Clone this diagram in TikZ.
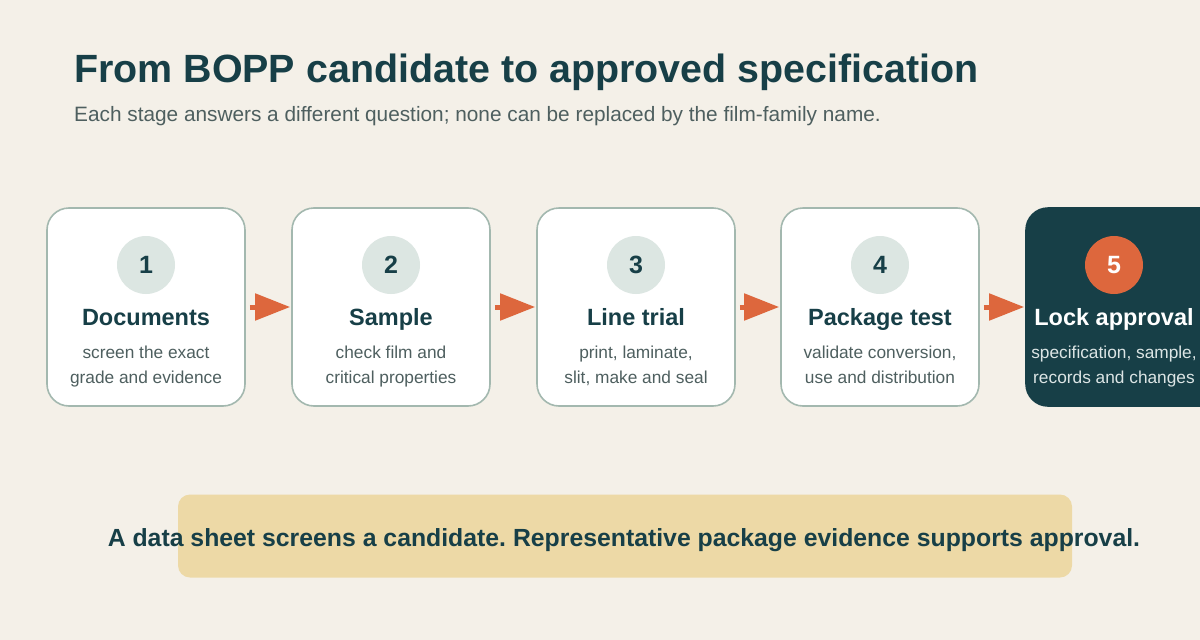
\documentclass[tikz,border=0pt]{standalone}
\usepackage{fontspec}
\setmainfont{Liberation Sans}
\frenchspacing
\usetikzlibrary{arrows.meta,positioning}
\definecolor{bopppaper}{HTML}{F4F0E8}
\definecolor{boppink}{HTML}{173F47}
\definecolor{boppgrey}{HTML}{4E5F5F}
\definecolor{boppedge}{HTML}{A3B8AF}
\definecolor{boppdisc}{HTML}{DCE6E2}
\definecolor{bopporange}{HTML}{DD673D}
\definecolor{boppsand}{HTML}{EDD9A6}
\definecolor{boppmist}{HTML}{DCE5E5}

\begin{document}
\begin{tikzpicture}[x=1pt,y=-1pt,
  stagebox/.style={draw=boppedge,line width=1.6pt,fill=white,rounded corners=22pt,minimum width=198pt,minimum height=198pt,inner sep=0pt},
  lockbox/.style={stagebox,draw=boppink,fill=boppink},
  numdisc/.style={circle,fill=boppdisc,minimum size=58pt,inner sep=0pt,font=\bfseries\fontsize{25}{28}\selectfont,text=boppink},
  stagename/.style={anchor=base,font=\bfseries\fontsize{23.5}{27}\selectfont,text=boppink},
  stagenote/.style={anchor=base,align=center,font=\fontsize{17.3}{25}\selectfont,text=boppgrey},
  flow/.style={draw=bopporange,line width=5pt,-{Triangle[length=35pt,width=26pt]},shorten <=4pt,shorten >=1pt}]
\useasboundingbox (0,0) rectangle (1200,640);
\clip (0,0) rectangle (1200,640);
\fill[bopppaper] (0,0) rectangle (1200,640);
% heading
\node[anchor=base west,inner sep=0pt,font=\bfseries\fontsize{39.4}{46}\selectfont,text=boppink] (head) at (74,82) {From BOPP candidate to approved specification};
\node[anchor=base west,inner sep=0pt,font=\fontsize{20.8}{25}\selectfont,text=boppgrey] (sub) at (74,121) {Each stage answers a different question; none can be replaced by the film-family name.};
% stages
\node[stagebox] (s1) at (146,307) {};
\node[stagebox] (s2) at (391,307) {};
\node[stagebox] (s3) at (636,307) {};
\node[stagebox] (s4) at (880,307) {};
\node[lockbox] (s5) at (1125,307) {};
\node[numdisc] (n1) at (146,265) {1};
\node[numdisc] (n2) at (391,265) {2};
\node[numdisc] (n3) at (636,265) {3};
\node[numdisc] (n4) at (880,265) {4};
\node[numdisc,fill=bopporange,text=white] (n5) at (1114,265) {5};
\node[stagename] (t1) at (146,325) {Documents};
\node[stagename] (t2) at (391,325) {Sample};
\node[stagename] (t3) at (636,325) {Line trial};
\node[stagename] (t4) at (880,325) {Package test};
\node[stagename,text=white] (t5) at (1114,325) {Lock approval};
\node[stagenote] (d1) at (146,383) {screen the exact\\grade and evidence};
\node[stagenote] (d2) at (391,383) {check film and\\critical properties};
\node[stagenote] (d3) at (636,383) {print, laminate,\\slit, make and seal};
\node[stagenote] (d4) at (880,383) {validate conversion,\\use and distribution};
\node[stagenote,text=boppmist] (d5) at (1114,383) {specification, sample,\\records and changes};
% arrows between stages
\draw[flow] (s1.east) -- (s2.west);
\draw[flow] (s2.east) -- (s3.west);
\draw[flow] (s3.east) -- (s4.west);
\draw[flow] (s4.east) -- (s5.west);
% takeaway banner
\node[fill=boppsand,rounded corners=12pt,minimum width=894pt,minimum height=83pt,inner sep=0pt] (band) at (625,536) {};
\node[anchor=base,inner sep=0pt,font=\bfseries\fontsize{24.8}{29}\selectfont,text=boppink] (moral) at (624,546) {A data sheet screens a candidate. Representative package evidence supports approval.};
\end{tikzpicture}
\end{document}
